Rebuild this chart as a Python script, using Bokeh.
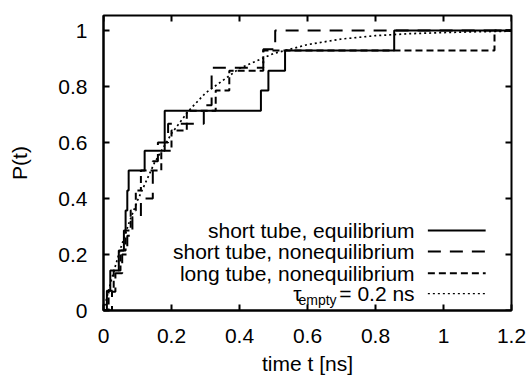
import math
from bokeh.plotting import figure
from bokeh.models import Range1d, FixedTicker, Label
from bokeh.embed import file_html
from bokeh.resources import INLINE

# ---- data ----
eq_t = [0, 0.01, 0.02, 0.045, 0.06, 0.065, 0.07, 0.074, 0.121, 0.18, 0.463, 0.485, 0.534, 0.855, 1.2]
eq_p = [0, 0.071, 0.143, 0.214, 0.286, 0.357, 0.429, 0.5, 0.571, 0.714, 0.786, 0.857, 0.929, 1.0, 1.0]

sne_t = [0, 0.025, 0.035, 0.055, 0.07, 0.085, 0.11, 0.145, 0.16, 0.19, 0.295, 0.318, 0.47, 0.505, 1.2]
sne_p = [0, 0.067, 0.133, 0.2, 0.267, 0.333, 0.4, 0.533, 0.6, 0.667, 0.733, 0.867, 0.933, 1.0, 1.0]

lne_t = [0, 0.015, 0.03, 0.05, 0.065, 0.08, 0.095, 0.11, 0.17, 0.2, 0.245, 0.33, 0.37, 0.47, 1.15, 1.2]
lne_p = [0, 0.071, 0.143, 0.214, 0.286, 0.357, 0.429, 0.5, 0.571, 0.643, 0.714, 0.786, 0.857, 0.929, 1.0, 1.0]

fit_t = [0, 0.025, 0.05, 0.075, 0.1, 0.15, 0.2, 0.25, 0.3, 0.4, 0.5, 0.6, 0.7, 0.8, 0.9, 1.0, 1.1, 1.2]
fit_p = [0, 0.118, 0.221, 0.313, 0.393, 0.528, 0.632, 0.713, 0.777, 0.865, 0.918, 0.950, 0.970, 0.982, 0.989, 0.993, 0.996, 0.998]

x_ticks = [0, 0.2, 0.4, 0.6, 0.8, 1.0, 1.2]
x_tick_labels = ["0", "0.2", "0.4", "0.6", "0.8", "1", "1.2"]
y_ticks = [0, 0.2, 0.4, 0.6, 0.8, 1.0]
y_tick_labels = ["0", "0.2", "0.4", "0.6", "0.8", "1"]

legend_labels = ["short tube, equilibrium", "short tube, nonequilibrium", "long tube, nonequilibrium"]
legend_rows = [0.286, 0.211, 0.133, 0.060]
legend_text_x = 0.915
legend_line_x = [0.954, 1.124]

X_MIN, X_MAX = 0, 1.2
Y_MIN, Y_MAX = 0, 1.054

FONT = "Liberation Sans"
FS = "21px"

p = figure(width=527, height=378, output_backend="svg", toolbar_location=None,
           x_range=Range1d(X_MIN, X_MAX), y_range=Range1d(Y_MIN, Y_MAX),
           min_border_left=103, min_border_right=16, min_border_top=15, min_border_bottom=68)
p.background_fill_color = "white"
p.border_fill_color = "white"
p.grid.visible = False
p.outline_line_color = "black"
p.outline_line_width = 2

styles = [
    (eq_t, eq_p, "solid", 2.0),
    (sne_t, sne_p, "13 9", 2.0),
    (lne_t, lne_p, "7 4", 2.0),
]
for xs, ys, dash, w in styles:
    p.step(xs, ys, mode="after", line_color="black", line_width=w, line_dash=dash)
p.line(fit_t, fit_p, line_color="black", line_width=1.7, line_dash="2 3")

xa = p.xaxis[0]
ya = p.yaxis[0]
xa.ticker = FixedTicker(ticks=x_ticks)
ya.ticker = FixedTicker(ticks=y_ticks)
xa.major_label_overrides = dict(zip(x_ticks, x_tick_labels))
ya.major_label_overrides = dict(zip(y_ticks, y_tick_labels))
for ax in (xa, ya):
    ax.axis_line_width = 2
    ax.axis_line_color = "black"
    ax.major_tick_in = 6
    ax.major_tick_out = 0
    ax.major_tick_line_width = 2
    ax.minor_tick_line_color = None
    ax.major_label_text_font = FONT
    ax.major_label_text_font_size = FS
    ax.major_label_text_color = "black"
    ax.axis_label_text_font = FONT
    ax.axis_label_text_font_size = FS
    ax.axis_label_text_font_style = "normal"
    ax.axis_label_text_color = "black"
xa.major_label_standoff = 18
ya.major_label_standoff = 16
xa.axis_label = "time t [ns]"
xa.axis_label_standoff = 6
ya.axis_label = "P(t)"
ya.axis_label_standoff = 24

# mirrored inward ticks on top and right edges
p.ray(x=x_ticks, y=[Y_MAX] * len(x_ticks), length=6, length_units="screen",
      angle=-math.pi / 2, line_color="black", line_width=2)
p.ray(x=[X_MAX] * len(y_ticks), y=y_ticks, length=6, length_units="screen",
      angle=math.pi, line_color="black", line_width=2)

# ---- legend (text on the left, sample on the right) ----
dashes = ["solid", "13 9", "7 4", "2 3"]
widths = [2.0, 2.0, 2.0, 1.2]
for i, lab in enumerate(legend_labels):
    p.add_layout(Label(x=legend_text_x, y=legend_rows[i], text=lab, text_align="right",
                       text_baseline="middle", text_font=FONT, text_font_size=FS,
                       text_color="black"))
for i in range(4):
    p.line(legend_line_x, [legend_rows[i], legend_rows[i]], line_color="black",
           line_width=widths[i], line_dash=dashes[i])

p.add_layout(Label(x=legend_text_x, y=legend_rows[3], text="= 0.2 ns", text_align="right",
                   text_baseline="middle", text_font=FONT, text_font_size=FS, text_color="black"))
p.add_layout(Label(x=legend_text_x, y=legend_rows[3], x_offset=-78, y_offset=-6, text="empty",
                   text_align="right", text_baseline="middle", text_font=FONT,
                   text_font_size="14px", text_color="black"))
p.add_layout(Label(x=legend_text_x, y=legend_rows[3], x_offset=-113, text="τ", text_align="right",
                   text_baseline="middle", text_font=FONT, text_font_size=FS, text_color="black"))

open("out.html", "w").write(file_html(p, INLINE))
